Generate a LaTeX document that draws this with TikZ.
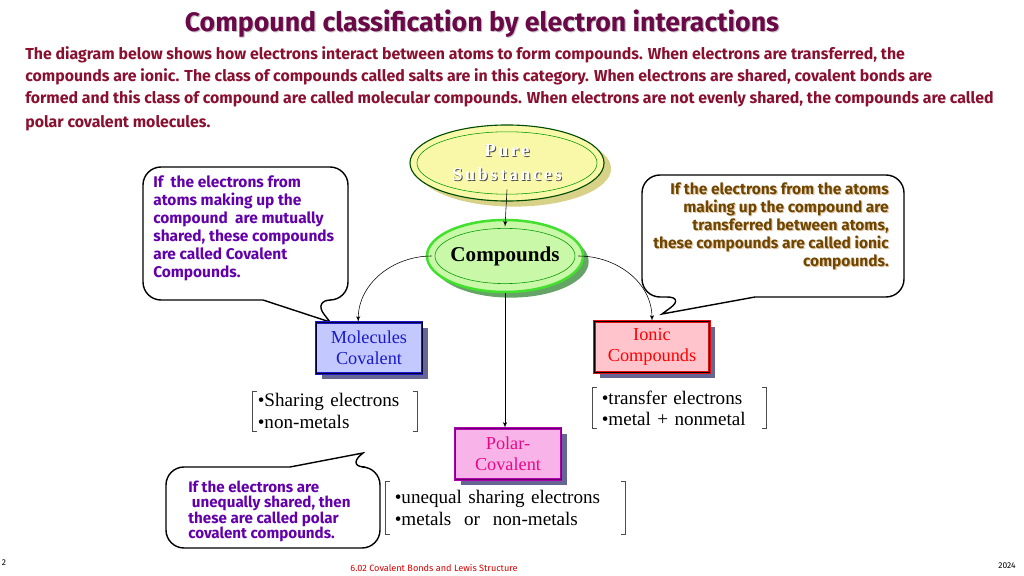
\documentclass[tikz,border=0pt]{standalone}
\usepackage{fontspec}
\setmainfont{Liberation Serif}
\newfontfamily\comicfont{Fira Sans}
\usetikzlibrary{arrows,shapes.geometric,shadows}
\definecolor{titleCol}{HTML}{6A0848}
\definecolor{introCol}{HTML}{8A1030}
\definecolor{purpleCol}{HTML}{6400AA}
\definecolor{brownCol}{HTML}{6E4600}
\definecolor{molFill}{HTML}{C3C8FF}
\definecolor{molLine}{HTML}{1A1AC8}
\definecolor{ionFill}{HTML}{FFC4CC}
\definecolor{ionLine}{HTML}{E01010}
\definecolor{polFill}{HTML}{F8B4E8}
\definecolor{polLine}{HTML}{B000B0}
\definecolor{pureFill}{HTML}{F8F8A8}
\definecolor{compFill}{HTML}{C8F8A8}
\definecolor{compLine}{HTML}{44E030}
\newcommand{\shadowed}[3]{\makebox[0pt][l]{\hspace{0.8pt}\raisebox{-0.8pt}{\textcolor{#2}{#3}}}\textcolor{#1}{#3}}
\newcommand{\emboss}[1]{\makebox[0pt][l]{\hspace{0.7pt}\raisebox{-0.7pt}{\textcolor{black!70}{#1}}}\textcolor{white}{#1}}

\begin{document}
\begin{tikzpicture}[x=0.025cm,y=-0.025cm]
	\useasboundingbox (0,0) rectangle (1024,576);
	\tikzset{ovalPure/.style = {ellipse,draw=green!30!black,thick,fill=pureFill,minimum width=4.85cm,minimum height=1.9cm,inner sep=0pt,
			drop shadow={fill=yellow!70!black,opacity=0.6,shadow xshift=5pt,shadow yshift=-4pt}}}
	\tikzset{ovalComp/.style = {ellipse,draw=compLine,line width=1.8pt,fill=compFill,minimum width=3.9cm,minimum height=1.8cm,inner sep=0pt,
			drop shadow={fill=green!40!black,opacity=0.6,shadow xshift=4pt,shadow yshift=-4pt}}}
	\tikzset{kind/.style = {rectangle,line width=0.8pt,double distance=0.5pt,minimum height=1.275cm,inner sep=1pt,align=center,
			font=\fontsize{13}{15}\selectfont,drop shadow={fill=black!70!blue,opacity=0.6,shadow xshift=4pt,shadow yshift=-4pt}}}
	\tikzset{brklist/.style = {inner ysep=0pt,align=left,font=\fontsize{13.6}{15}\selectfont}}
	\tikzset{brk/.style = {draw=black!70,thin}}
	\tikzset{bubble/.style = {draw=black,line width=1pt,fill=white}}
	\tikzset{note/.style = {inner sep=0pt}}
	\tikzstyle{edge} = [->,> = latex',thin]
	%title and intro
	\node[font=\comicfont\bfseries\fontsize{19}{21}\selectfont] (title) at (482,24) {\shadowed{titleCol}{gray!45}{Compound classification by electron interactions}};
	\node[anchor=north west,inner sep=0pt,align=left,text=introCol,font=\comicfont\bfseries\fontsize{11.3}{15.6}\selectfont] (intro) at (25,46)
		{The diagram below shows how electrons interact between atoms to form compounds. When electrons are transferred, the\\
		 compounds are ionic. The class of compounds called salts are in this category. When electrons are shared, covalent bonds are\\
		 formed and this class of compound are called molecular compounds. When electrons are not evenly shared, the compounds are called\\[1.5pt]
		 polar covalent molecules.};
	%callouts
	\draw[bubble,rounded corners=0.45cm] (263,300) -- (143,300) -- (143,167) -- (348,167) -- (348,300) -- (313,300) [sharp corners] -- (330,322) -- cycle;
	\node[note,anchor=north west,align=left,text=purpleCol,font=\comicfont\bfseries\fontsize{11}{12.8}\selectfont] (covNote) at (153,175)
		{If\ \ the electrons from\\ atoms making up the\\ compound\ \ are mutually\\ shared, these compounds\\ are called Covalent\\ Compounds.};
	\draw[bubble,rounded corners=0.45cm] (755,297) -- (904,297) -- (904,175) -- (642,175) -- (642,297) -- (685,297) [sharp corners] -- (662,314) -- cycle;
	\node[note,anchor=north east,align=right,font=\comicfont\bfseries\fontsize{11}{12.8}\selectfont] (ionNote) at (889,182)
		{\shadowed{brownCol}{brown!45}{If the electrons from the atoms}\\ \shadowed{brownCol}{brown!45}{making up the compound are}\\
		 \shadowed{brownCol}{brown!45}{transferred between atoms,}\\ \shadowed{brownCol}{brown!45}{these compounds are called ionic}\\
		 \shadowed{brownCol}{brown!45}{compounds.}};
	\draw[bubble,rounded corners=0.45cm] (290,467) -- (166,467) -- (166,548) -- (380,548) -- (380,467) -- (347,467) [sharp corners] -- (363,453) -- cycle;
	\node[note,anchor=north west,align=left,text=purpleCol,font=\comicfont\bfseries\fontsize{10.8}{10.8}\selectfont] (polNote) at (188,481)
		{If the electrons are\\ \ unequally shared, then\\ these are called polar\\ covalent compounds.};
	%ovals
	\node[ovalPure,align=center,font=\bfseries\fontsize{13}{17}\selectfont\addfontfeature{LetterSpace=14}] (ps) at (507,163) {\emboss{Pure}\\\emboss{Substances}};
	\draw[green!60!black,thin] (ps.center) ellipse [x radius=2.25cm,y radius=0.78cm];
	\node[ovalComp,font=\bfseries\fontsize{15}{17}\selectfont] (cp) at (505,256) {Compounds};
	\draw[green!60!black,thin] (cp.center) ellipse [x radius=1.75cm,y radius=0.69cm];
	%kinds of compounds
	\node[kind,draw=molLine,double=black!80!blue,fill=molFill,text=molLine,minimum width=2.65cm] (mol) at (369,348) {Molecules\\Covalent};
	\node[kind,draw=ionLine,double=black,fill=ionFill,text=red,minimum width=2.875cm] (ion) at (652,347) {Ionic\\Compounds};
	\node[kind,draw=polLine,double=polLine!60!black,fill=polFill,text=magenta!90!purple,minimum width=2.65cm] (pol) at (508,454) {Polar-\\Covalent};
	%properties
	\node[brklist,minimum width=4.1cm,minimum height=0.98cm,inner xsep=0.12cm,text width=3.86cm] (molList) at (335,411) {\textbullet Sharing electrons\\\textbullet non-metals};
	\node[brklist,minimum width=4.325cm,minimum height=1.0cm,inner xsep=0.22cm,text width=3.885cm] (ionList) at (679.5,408) {\textbullet transfer electrons\\\textbullet metal + nonmetal};
	\node[brklist,minimum width=5.975cm,minimum height=1.3cm,inner xsep=0.22cm,text width=5.535cm,font=\fontsize{13.6}{15.6}\selectfont] (polList) at (505.5,508) {\textbullet unequal sharing electrons\\\textbullet metals\ \ or\ \ non-metals};
	\foreach \lst in {molList,ionList,polList}{
		\draw[brk] ([xshift=3pt]\lst.north west) -- (\lst.north west) -- (\lst.south west) -- ([xshift=3pt]\lst.south west);
		\draw[brk] ([xshift=-3pt]\lst.north east) -- (\lst.north east) -- (\lst.south east) -- ([xshift=-3pt]\lst.south east);
	}
	%connections
	\draw[edge] ([yshift=0.3cm]ps.south) -- ([yshift=-0.2cm]cp.north);
	\draw[edge] (cp.south) -- (cp.south |- pol.north);
	\draw[edge] ([xshift=0.15cm]cp.west) to[out=180,in=90] ([xshift=-0.27cm]mol.north);
	\draw[edge] ([xshift=-0.15cm]cp.east) to[out=0,in=90] (ion.north);
	%footer
	\node[font=\comicfont\fontsize{6}{7}\selectfont] (pageNo) at (4,563) {2};
	\node[font=\comicfont\fontsize{6.5}{7}\selectfont,text=red!85!black] (course) at (434,568) {6.02 Covalent Bonds and Lewis Structure};
	\node[font=\comicfont\fontsize{6}{7}\selectfont] (year) at (1007,566) {2024};
\end{tikzpicture}
\end{document}
